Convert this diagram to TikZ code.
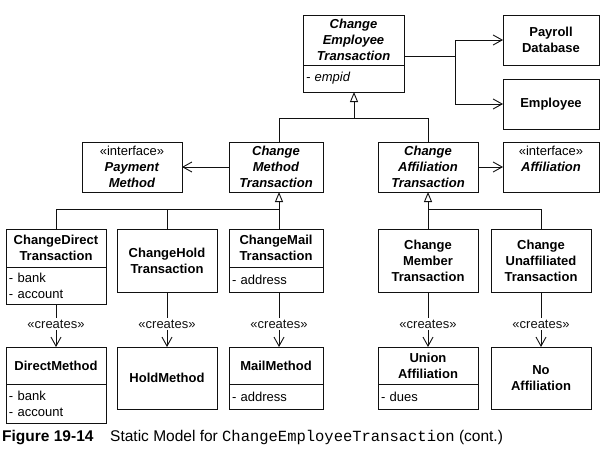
\documentclass[tikz,border=0pt]{standalone}
\usepackage{fontspec}
\setmainfont{Liberation Sans}
\setmonofont{Liberation Mono}
\usepackage{xcolor}
\definecolor{ink}{HTML}{111111}
\usetikzlibrary{arrows.meta,positioning,calc}

\begin{document}
\begin{tikzpicture}[
		x=1pt, y=-1pt,
		font=\fontsize{13}{16}\selectfont,
		classbox/.style={draw=ink, line width=1pt, outer sep=0pt, inner sep=2pt, align=center, font=\fontsize{13}{16}\selectfont\bfseries},
		attrbox/.style={draw=ink, line width=1pt, outer sep=0pt, inner xsep=3pt, inner ysep=1pt, align=left, text width=#1},
		stereo/.style={inner sep=1.5pt, text=ink},
		link/.style={ink, line width=0.9pt},
		inherit/.style={link, -{Triangle[open, length=10pt, width=8pt, fill=white]}},
		assoc/.style={link, -{Straight Barb[length=9pt, width=10pt]}},
	]
		\useasboundingbox (0,0) rectangle (601,455);

		% Junction points of the trees
		\coordinate (ejoin) at (354,118);
		\coordinate (mjoin) at (279,209);
		\coordinate (ajoin) at (428,209);
		\coordinate (pjoin) at (455,56);
		\coordinate (crow) at (0,324);

		% Top row
		\node[classbox, minimum width=101pt, minimum height=50pt] (cet) at (353.5,40) {\textit{Change}\\\textit{Employee}\\\textit{Transaction}};
		\node[attrbox=95pt, minimum height=27pt, below=0pt of cet] (cetattr) {\textit{- empid}};
		\node[classbox, minimum width=96pt, minimum height=50pt] (payroll) at (551,40) {Payroll\\Database};
		\node[classbox, minimum width=96pt, minimum height=50pt] (employee) at (551,104) {Employee};

		% Second row
		\node[classbox, minimum width=100pt, minimum height=50pt] (pm) at (132,167) {\mdseries«interface»\\\textit{Payment}\\\textit{Method}};
		\node[classbox, minimum width=94pt, minimum height=50pt] (cmt) at (276,167) {\textit{Change}\\\textit{Method}\\\textit{Transaction}};
		\node[classbox, minimum width=100pt, minimum height=50pt] (cat) at (428,167) {\textit{Change}\\\textit{Affiliation}\\\textit{Transaction}};
		\node[classbox, minimum width=96pt, minimum height=50pt] (aff) at (551,167) {\mdseries«interface»\\\textit{Affiliation}\\\mbox{}};

		% Concrete transactions
		\node[classbox, minimum width=100pt, minimum height=38pt] (cdt) at (56,248) {ChangeDirect\\Transaction};
		\node[attrbox=94pt, minimum height=37pt, below=0pt of cdt] (cdtattr) {- bank\\- account};
		\node[classbox, minimum width=100pt, minimum height=63pt] (cht) at (167,260.5) {ChangeHold\\Transaction};
		\node[classbox, minimum width=94pt, minimum height=38pt] (cmailt) at (276,248) {ChangeMail\\Transaction};
		\node[attrbox=88pt, minimum height=25pt, below=0pt of cmailt] (cmailtattr) {- address};
		\node[classbox, minimum width=100pt, minimum height=63pt] (cmemt) at (428,260.5) {Change\\Member\\Transaction};
		\node[classbox, minimum width=100pt, minimum height=63pt] (cut) at (541,260.5) {Change\\Unaffiliated\\Transaction};

		% Created objects
		\node[classbox, minimum width=100pt, minimum height=37pt] (dm) at (56,365.5) {DirectMethod};
		\node[attrbox=94pt, minimum height=39pt, below=0pt of dm] (dmattr) {- bank\\- account};
		\node[classbox, minimum width=100pt, minimum height=62pt] (hm) at (167,378) {HoldMethod};
		\node[classbox, minimum width=94pt, minimum height=37pt] (mm) at (276,365.5) {MailMethod};
		\node[attrbox=88pt, minimum height=25pt, below=0pt of mm] (mmattr) {- address};
		\node[classbox, minimum width=100pt, minimum height=37pt] (ua) at (428,365.5) {Union\\Affiliation};
		\node[attrbox=94pt, minimum height=25pt, below=0pt of ua] (uaattr) {- dues};
		\node[classbox, minimum width=100pt, minimum height=62pt] (na) at (541,378) {No\\Affiliation};

		% Stereotype labels
		\node[stereo] (cr1) at (cdt.south |- crow) {«creates»};
		\node[stereo] (cr2) at (cht.south |- crow) {«creates»};
		\node[stereo] (cr3) at (mjoin |- crow) {«creates»};
		\node[stereo] (cr4) at (cmemt.south |- crow) {«creates»};
		\node[stereo] (cr5) at (cut.south |- crow) {«creates»};

		% Generalizations
		\draw[inherit] (cmt.north -| mjoin) |- (ejoin) -- (cetattr.south -| ejoin);
		\draw[link] (cat.north) |- (ejoin);
		\draw[inherit] (cdt.north) |- (mjoin) -- (cmt.south -| mjoin);
		\draw[link] (cht.north) |- (mjoin);
		\draw[link] (cmailt.north -| mjoin) -- (mjoin);
		\draw[inherit] (cmemt.north) -- (cat.south);
		\draw[link] (cut.north) |- (ajoin);

		% Associations
		\draw[assoc] (cmt) -- (pm);
		\draw[assoc] (cat) -- (aff);
		\draw[link] (cetattr.north east |- pjoin) -- (pjoin);
		\draw[assoc] (pjoin) |- (payroll.west);
		\draw[assoc] (pjoin) |- (employee.west);

		% Dependencies
		\draw[link] (cdtattr) -- (cr1);
		\draw[assoc] (cr1) -- (dm);
		\draw[link] (cht) -- (cr2);
		\draw[assoc] (cr2) -- (hm);
		\draw[link] (cmailtattr.south -| mjoin) -- (cr3);
		\draw[assoc] (cr3) -- (mm.north -| mjoin);
		\draw[link] (cmemt) -- (cr4);
		\draw[assoc] (cr4) -- (ua);
		\draw[link] (cut) -- (cr5);
		\draw[assoc] (cr5) -- (na);

		% Caption
		\node[anchor=base west, inner sep=0pt, font=\fontsize{15.5}{18}\selectfont\bfseries] (fignum) at (2,441) {Figure 19-14};
		\node[anchor=base west, inner sep=0pt, font=\fontsize{15.5}{18}\selectfont] (figtitle) at (110,441) {Static Model for \texttt{ChangeEmployeeTransaction} (cont.)};
	\end{tikzpicture}
\end{document}
